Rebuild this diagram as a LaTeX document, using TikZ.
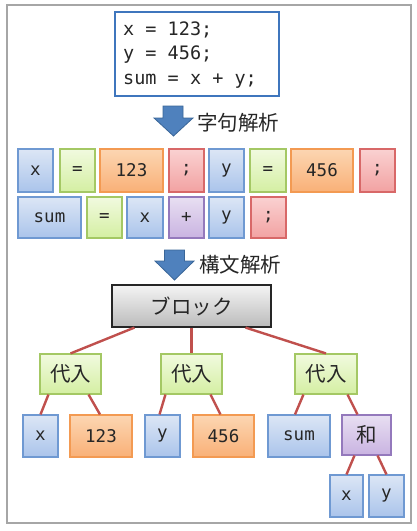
\documentclass[tikz,border=0pt]{standalone}
\usepackage{fontspec}
\setmonofont{DejaVu Sans Mono}
\newfontfamily\jpfont{Noto Sans CJK JP}
\usetikzlibrary{calc}
\definecolor{bluetop}{HTML}{DCE6F5}
\definecolor{bluebot}{HTML}{AAC4EB}
\definecolor{blueline}{HTML}{6F99D2}
\definecolor{greentop}{HTML}{F1FADF}
\definecolor{greenbot}{HTML}{D4EFA2}
\definecolor{greenline}{HTML}{A4C864}
\definecolor{orangetop}{HTML}{FCD6B2}
\definecolor{orangebot}{HTML}{F9B077}
\definecolor{orangeline}{HTML}{F39A52}
\definecolor{redtop}{HTML}{FAD1D1}
\definecolor{redbot}{HTML}{F2A2A2}
\definecolor{redline}{HTML}{D86868}
\definecolor{purpletop}{HTML}{E8DFF2}
\definecolor{purplebot}{HTML}{C9B3E1}
\definecolor{purpleline}{HTML}{9479BC}
\definecolor{graytop}{HTML}{F4F4F4}
\definecolor{graybot}{HTML}{BBBBBB}
\definecolor{edgered}{HTML}{C0504D}
\definecolor{arrowblue}{HTML}{4F81BD}
\definecolor{arrowline}{HTML}{3A6698}
\definecolor{codeline}{HTML}{3F76BD}
\definecolor{frameline}{HTML}{A6A6A6}
\definecolor{textdark}{HTML}{262626}
\tikzset{
  tokbox/.style={draw, line width=1.1pt, inner sep=0pt, text=textdark,
    font=\ttfamily\fontsize{17.5}{20}\selectfont},
  bluebox/.style={tokbox, draw=blueline, top color=bluetop, bottom color=bluebot},
  greenbox/.style={tokbox, draw=greenline, top color=greentop, bottom color=greenbot},
  orangebox/.style={tokbox, draw=orangeline, top color=orangetop, bottom color=orangebot},
  redbox/.style={tokbox, draw=redline, top color=redtop, bottom color=redbot},
  purplebox/.style={tokbox, draw=purpleline, top color=purpletop, bottom color=purplebot},
  jpbox/.style={font=\jpfont\fontsize{20.5}{24}\selectfont},
  graybox/.style={draw=black!85, line width=1.2pt, inner sep=0pt, text=textdark,
    top color=graytop, bottom color=graybot, jpbox},
  edge/.style={draw=edgered, line width=2.4pt},
  bigarrow/.style={fill=arrowblue, draw=arrowline, line width=0.8pt},
  label/.style={jpbox, anchor=west, text=textdark, inner sep=0pt},
}
\begin{document}
\begin{tikzpicture}[x=1pt,y=-1pt]
\useasboundingbox (0,0) rectangle (416,531);
\fill[white] (0,0) rectangle (416,531);
% outer frame
\draw[frameline, line width=1.2pt] (7,5) rectangle (411,523);
% code box
\node[draw=codeline, line width=1.8pt, fill=white, minimum width=164pt, minimum height=84pt,
      inner sep=0pt] (code) at (197,54) {};
\node[anchor=west, align=left, inner sep=0pt, text=textdark,
      font=\ttfamily\fontsize{18.5}{24.5}\selectfont] (codetext) at (123,55)
  {x = 123;\\y = 456;\\sum = x + y;};
% arrow 1
\draw[bigarrow] (163,106) -- (183,106) -- (183,118) -- (193,118) -- (173.5,136)
  -- (154,118) -- (163,118) -- cycle;
\node[label] (lex) at (197,123) {字句解析};
% row 1 tokens
\node[bluebox, minimum width=35pt, minimum height=43pt] (t1) at (35.5,170.5) {x};
\node[greenbox, minimum width=35pt, minimum height=43pt] (t2) at (77.5,170.5) {=};
\node[orangebox, minimum width=63pt, minimum height=43pt] (t3) at (131.5,170.5) {123};
\node[redbox, minimum width=35pt, minimum height=43pt] (t4) at (186.5,170.5) {;};
\node[bluebox, minimum width=35pt, minimum height=43pt] (t5) at (226.5,170.5) {y};
\node[greenbox, minimum width=36pt, minimum height=43pt] (t6) at (268,170.5) {=};
\node[orangebox, minimum width=62pt, minimum height=43pt] (t7) at (322,170.5) {456};
\node[redbox, minimum width=35pt, minimum height=43pt] (t8) at (377.5,170.5) {;};
% row 2 tokens
\node[bluebox, minimum width=63pt, minimum height=41pt] (u1) at (49.5,217.5) {sum};
\node[greenbox, minimum width=35pt, minimum height=41pt] (u2) at (104.5,217.5) {=};
\node[bluebox, minimum width=36pt, minimum height=41pt] (u3) at (145,217.5) {x};
\node[purplebox, minimum width=35pt, minimum height=41pt] (u4) at (186.5,217.5) {+};
\node[bluebox, minimum width=35pt, minimum height=41pt] (u5) at (226.5,217.5) {y};
\node[redbox, minimum width=35pt, minimum height=41pt] (u6) at (268.5,217.5) {;};
% arrow 2
\draw[bigarrow] (164.5,250) -- (184.5,250) -- (184.5,261) -- (194,261) -- (174.5,280)
  -- (155,261) -- (164.5,261) -- cycle;
\node[label] (syn) at (199,265) {構文解析};
% tree
\node[graybox, minimum width=159pt, minimum height=42pt] (blk) at (191.5,306) {ブロック};
\node[greenbox, jpbox, minimum width=61pt, minimum height=40pt] (a1) at (70.5,374) {代入};
\node[greenbox, jpbox, minimum width=61pt, minimum height=40pt] (a2) at (191.5,374) {代入};
\node[greenbox, jpbox, minimum width=62pt, minimum height=40pt] (a3) at (326,374) {代入};
\node[bluebox, minimum width=35pt, minimum height=42pt] (l1) at (40.5,436) {x};
\node[orangebox, minimum width=62pt, minimum height=42pt] (l2) at (101,436) {123};
\node[bluebox, minimum width=35pt, minimum height=42pt] (l3) at (162.5,436) {y};
\node[orangebox, minimum width=61pt, minimum height=42pt] (l4) at (223.5,436) {456};
\node[bluebox, minimum width=62pt, minimum height=42pt] (l5) at (299,436) {sum};
\node[purplebox, jpbox, minimum width=49pt, minimum height=40pt] (sum) at (366.5,435) {和};
\node[bluebox, minimum width=33pt, minimum height=42pt] (b1) at (346.5,496) {x};
\node[bluebox, minimum width=35pt, minimum height=42pt] (b2) at (386.5,496) {y};
% connectors
\draw[edge] ([xshift=23pt]blk.south west) -- (a1.north);
\draw[edge] (blk.south) -- (a2.north);
\draw[edge] ([xshift=-26pt]blk.south east) -- (a3.north);
\draw[edge] ([xshift=9pt]a1.south west) -- (l1.north);
\draw[edge] ([xshift=-13pt]a1.south east) -- ([xshift=-1pt]l2.north);
\draw[edge] ([xshift=5pt]a2.south west) -- ([xshift=-3pt]l3.north);
\draw[edge] ([xshift=-12pt]a2.south east) -- ([xshift=-3pt]l4.north);
\draw[edge] ([xshift=9pt]a3.south west) -- ([xshift=-4pt]l5.north);
\draw[edge] ([xshift=-10pt]a3.south east) -- ([xshift=-9pt]sum.north);
\draw[edge] ([xshift=13pt]sum.south west) -- (b1.north);
\draw[edge] ([xshift=-14pt]sum.south east) -- (b2.north);
\end{tikzpicture}
\end{document}
